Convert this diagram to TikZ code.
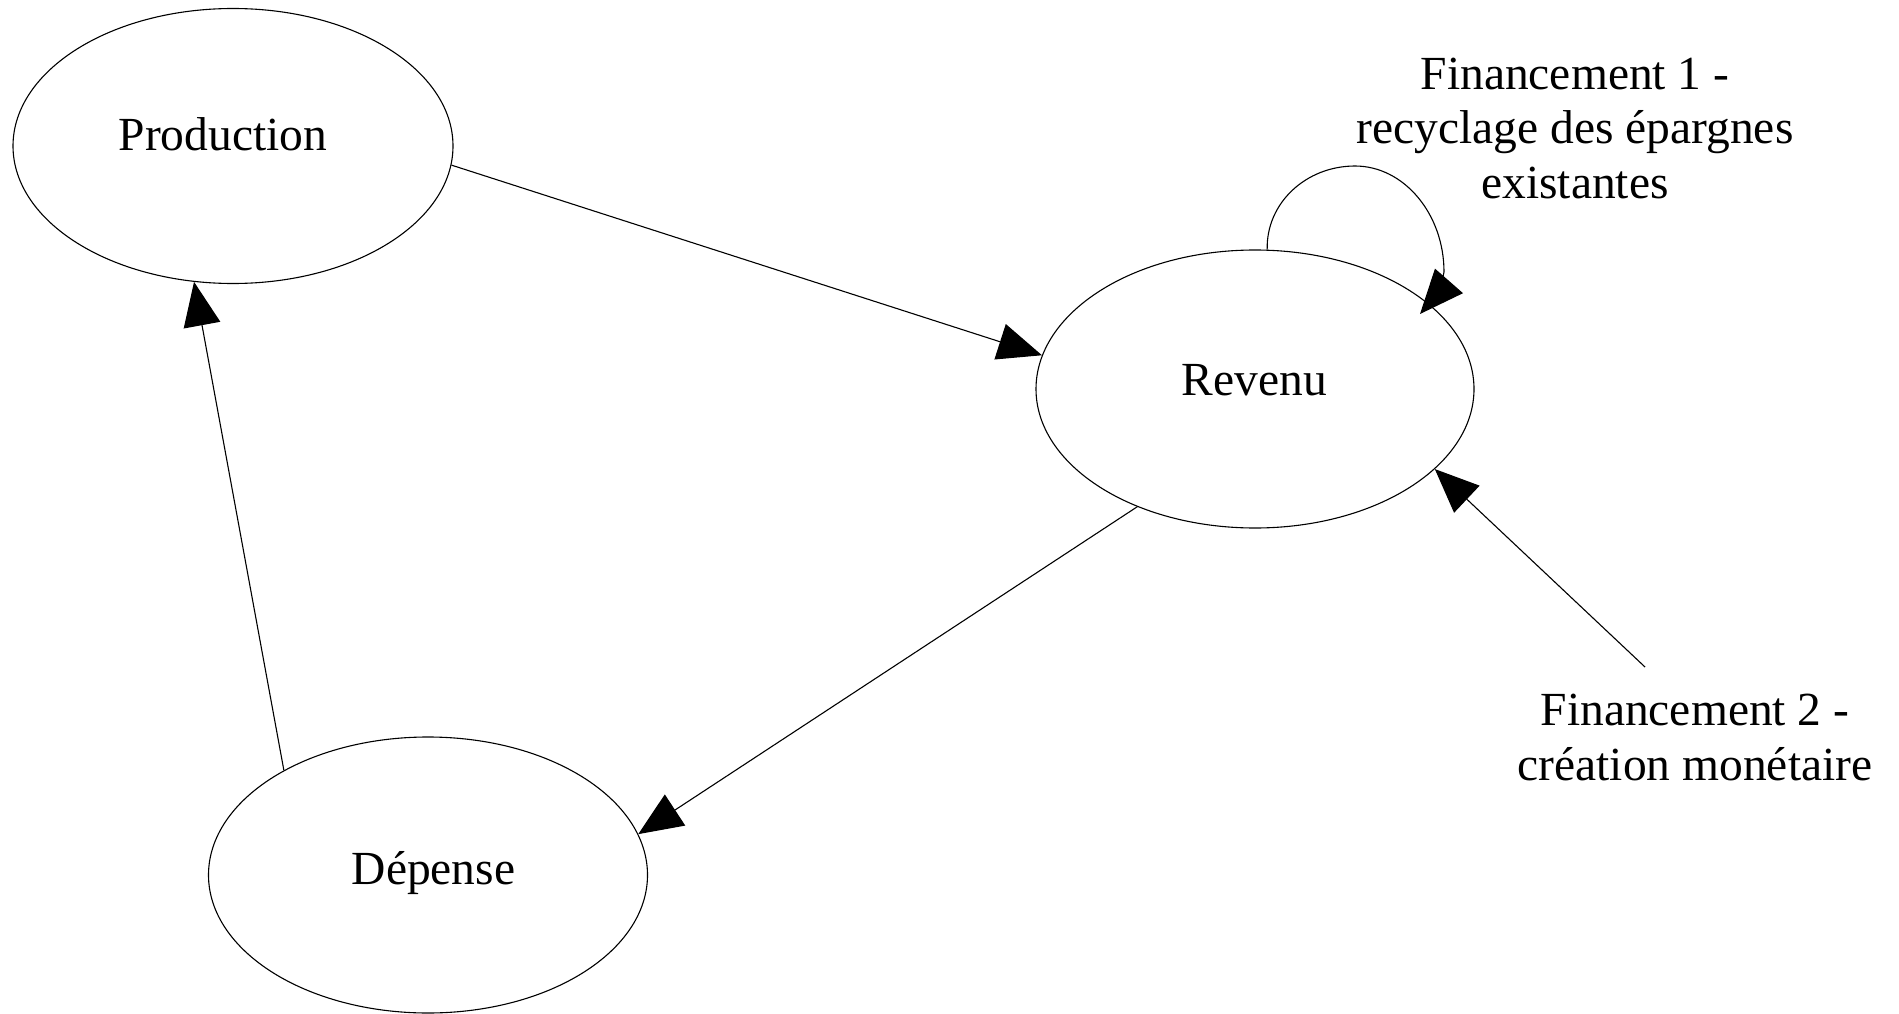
\documentclass[tikz,border=0pt]{standalone}
\usepackage{fontspec}
\setmainfont{Liberation Serif}
\usetikzlibrary{arrows.meta,shapes.geometric,calc}
\begin{document}
\begin{tikzpicture}[x=1pt,y=-1pt,
  bubble/.style={draw,ellipse,line width=1.1pt,inner sep=0pt},
  lbl/.style={font=\fontsize{47.5}{54.5}\selectfont,inner sep=0pt,anchor=base},
  flow/.style={line width=1.1pt,-{Triangle[length=44pt,width=37pt]}}]
\useasboundingbox (0,0) rectangle (1899,1014);
% ellipses
\node[bubble,minimum width=440pt,minimum height=275pt] (prod) at (233,146) {};
\node[bubble,minimum width=438pt,minimum height=278pt] (rev) at (1255,389) {};
\node[bubble,minimum width=439pt,minimum height=276pt] (dep) at (428,875) {};
% texts
\node[lbl] (prodtxt) at (223,150) {Production};
\node[lbl] (revtxt) at (1254.5,395) {Revenu};
\node[lbl] (deptxt) at (433.5,884) {Dépense};
\node[lbl,align=center] (fin1) at (1575,198) {Financement 1 -\\recyclage des épargnes\\existantes};
\node[lbl,align=center] (fin2) at (1695,780) {Financement 2 -\\création monétaire};
\coordinate (f2start) at (1645,667);
% connectors
\draw[flow] (prod.-5.5) -- (rev.171);
\draw[flow] (rev.225.5) -- (dep.11.9);
\draw[flow] (dep.144.2) -- (prod.-106.3);
\draw[flow] (f2start) -- (rev.-24.2);
\draw[flow] (rev.85.5) .. controls (1266,203) and (1306,166) .. (1355,166)
  .. controls (1404,166) and (1444,214) .. (1444,272) -- (1439.8,291.4) -- ($(rev.center)+(165,-75)$);
\end{tikzpicture}
\end{document}
